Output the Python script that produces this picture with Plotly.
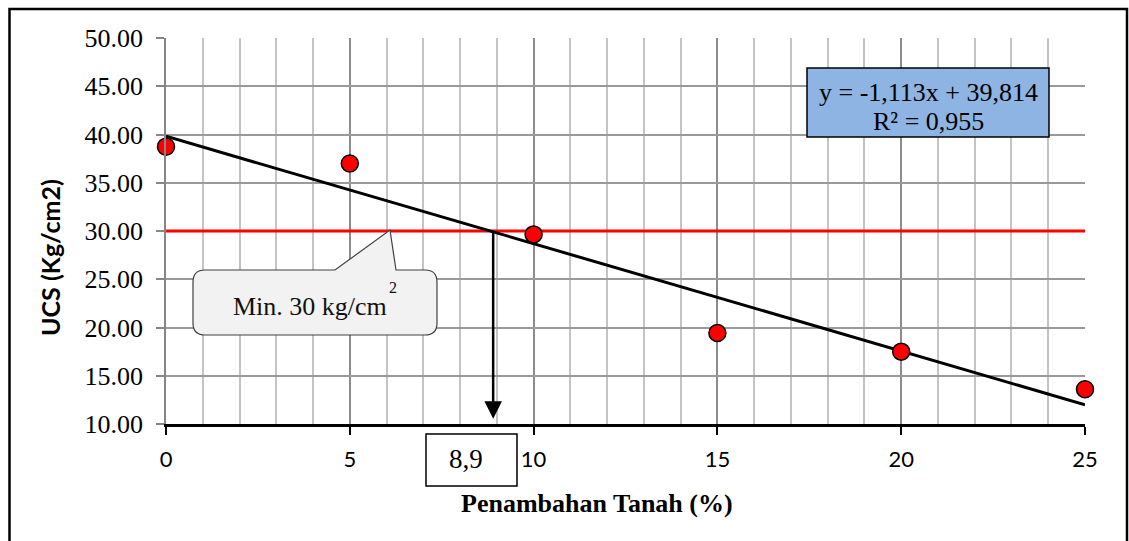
import plotly.graph_objects as go

# ---- data ----
tanah_pct = [0, 5, 10, 15, 20, 25]
ucs_values = [38.74, 37.0, 29.65, 19.43, 17.5, 13.6]
trend_slope = -1.113
trend_intercept = 39.814
min_ucs = 30
intersect_x = 8.9
equation_line1 = "y = -1,113x + 39,814"
equation_line2 = "R² = 0,955"
callout_text = "Min. 30 kg/cm"
x_ticks = [0, 5, 10, 15, 20, 25]
y_ticks = [10, 15, 20, 25, 30, 35, 40, 45, 50]

# page layout (body margin removed by post_script)
OFF = 0
PAGE_W, PAGE_H = 1129, 541
X0P, X1P, Y0P, Y1P = 166, 1085, 38, 424
W, H = PAGE_W - OFF, PAGE_H - OFF
L, T = X0P - OFF, Y0P - OFF
R, B = W - (X1P - OFF), H - (Y1P - OFF)
PW, PH = X1P - X0P, Y1P - Y0P
XMIN, XMAX, YMIN, YMAX = 0, 25, 10, 50


def dx(px):
    return XMIN + (px - X0P) / PW * (XMAX - XMIN)


def dy(py):
    return YMAX - (py - Y0P) / PH * (YMAX - YMIN)


def paper_x(px):
    return (px - X0P) / PW


def paper_y(py):
    return (Y1P - py) / PH


serif = "Liberation Serif, Times New Roman, serif"
sans = "Lato, Carlito, Calibri, sans-serif"

fig = go.Figure()

trend_x = [x_ticks[0], x_ticks[-1]]
trend_y = [trend_slope * v + trend_intercept for v in trend_x]

fig.add_trace(go.Scatter(x=trend_x, y=[min_ucs, min_ucs], mode="lines",
                         line=dict(color="#ff0000", width=3), hoverinfo="skip"))
fig.add_trace(go.Scatter(x=trend_x, y=trend_y, mode="lines",
                         line=dict(color="#000000", width=3), hoverinfo="skip"))
fig.add_trace(go.Scatter(x=tanah_pct, y=ucs_values, mode="markers",
                         marker=dict(color="#ff0000", size=17,
                                     line=dict(color="#000000", width=1.5)),
                         cliponaxis=False))

shapes = []
# outer frame
shapes.append(dict(type="rect", xref="paper", yref="paper",
                   x0=paper_x(9.5), x1=paper_x(1127), y0=paper_y(600), y1=paper_y(9),
                   line=dict(color="#000000", width=2.5), fillcolor="rgba(0,0,0,0)",
                   layer="below"))

# callout (wedge round rectangle)
pts = [("M", 205, 270), ("L", 335, 270), ("L", 390, 230), ("L", 396, 270),
       ("L", 425, 270), ("Q", 437, 270, 437, 282), ("L", 437, 323),
       ("Q", 437, 335, 425, 335), ("L", 205, 335), ("Q", 193, 335, 193, 323),
       ("L", 193, 282), ("Q", 193, 270, 205, 270)]
path = ""
for p in pts:
    cmd = p[0]
    coords = p[1:]
    segs = []
    for i in range(0, len(coords), 2):
        segs.append(f"{dx(coords[i]):.4f},{dy(coords[i+1]):.4f}")
    path += cmd + " " + " ".join(segs) + " "
path += "Z"
shapes.append(dict(type="path", xref="x", yref="y", path=path,
                   fillcolor="#f2f2f2", line=dict(color="#404040", width=1.2)))

# equation box
shapes.append(dict(type="rect", xref="x", yref="y",
                   x0=dx(807), x1=dx(1049), y0=dy(137), y1=dy(68),
                   fillcolor="#8db4e2", line=dict(color="#000000", width=1.5)))

# 8,9 box
shapes.append(dict(type="rect", xref="paper", yref="paper",
                   x0=paper_x(426), x1=paper_x(517), y0=paper_y(486), y1=paper_y(434),
                   fillcolor="#ffffff", line=dict(color="#000000", width=1.5)))

annotations = [
    dict(x=dx(928), y=dy(92), xref="x", yref="y", text=equation_line1, showarrow=False,
         font=dict(family=serif, size=26, color="#000000"), xanchor="center", yanchor="middle"),
    dict(x=dx(928), y=dy(121), xref="x", yref="y", text=equation_line2, showarrow=False,
         font=dict(family=serif, size=26, color="#000000"), xanchor="center", yanchor="middle"),
    dict(x=dx(310), y=dy(306), xref="x", yref="y", text=callout_text, showarrow=False,
         font=dict(family=serif, size=26, color="#111111"), xanchor="center", yanchor="middle"),
    dict(x=dx(393), y=dy(287), xref="x", yref="y", text="2", showarrow=False,
         font=dict(family=serif, size=16, color="#111111"), xanchor="center", yanchor="middle"),
    dict(x=paper_x(466), y=paper_y(459), xref="paper", yref="paper", text="8,9", showarrow=False,
         font=dict(family=serif, size=27, color="#000000"), xanchor="center", yanchor="middle"),
    dict(x=intersect_x, y=10.55, xref="x", yref="y", ax=intersect_x, ay=min_ucs,
         axref="x", ayref="y", text="", showarrow=True, arrowhead=2, arrowsize=1.4,
         arrowwidth=2.5, arrowcolor="#000000", standoff=0),
    dict(x=paper_x(597), y=paper_y(503), xref="paper", yref="paper",
         text="<b>Penambahan Tanah (%)</b>", showarrow=False,
         font=dict(family=serif, size=26, color="#000000"), xanchor="center", yanchor="middle"),
    dict(x=paper_x(50), y=paper_y(258), xref="paper", yref="paper",
         text="<b>UCS (Kg/cm2)</b>", showarrow=False, textangle=-90,
         font=dict(family=sans, size=25, color="#000000"), xanchor="center", yanchor="middle"),
]

fig.update_layout(
    width=W, height=H,
    margin=dict(l=L, r=R, t=T, b=B, pad=0),
    paper_bgcolor="#ffffff", plot_bgcolor="#ffffff",
    showlegend=False,
    shapes=shapes, annotations=annotations,
    xaxis=dict(range=[XMIN, XMAX], tickvals=x_ticks, ticktext=[str(v) for v in x_ticks],
               showgrid=True, gridcolor="#8c8c8c", gridwidth=1.5,
               minor=dict(dtick=1, showgrid=True, gridcolor="#c4c4c4", gridwidth=1.5),
               showline=True, linecolor="#000000", linewidth=2.5,
               ticks="outside", ticklen=8, tickwidth=2, tickcolor="#000000",
               ticklabelstandoff=6,
               tickfont=dict(family=sans, size=22, color="#000000"),
               zeroline=False, fixedrange=True),
    yaxis=dict(range=[YMIN, YMAX], tickvals=y_ticks, tickformat=".2f",
               showgrid=True, gridcolor="#9a9a9a", gridwidth=1.5,
               showline=True, linecolor="#868686", linewidth=1.5,
               ticks="outside", ticklen=8, tickwidth=1.5, tickcolor="#868686",
               ticklabelstandoff=8,
               tickfont=dict(family=serif, size=26, color="#000000"),
               zeroline=False, fixedrange=True),
)

fig.write_html(
    "out.html",
    config={"displayModeBar": False},
    post_script="document.body.style.margin='0px';document.body.style.overflow='hidden';",
)
